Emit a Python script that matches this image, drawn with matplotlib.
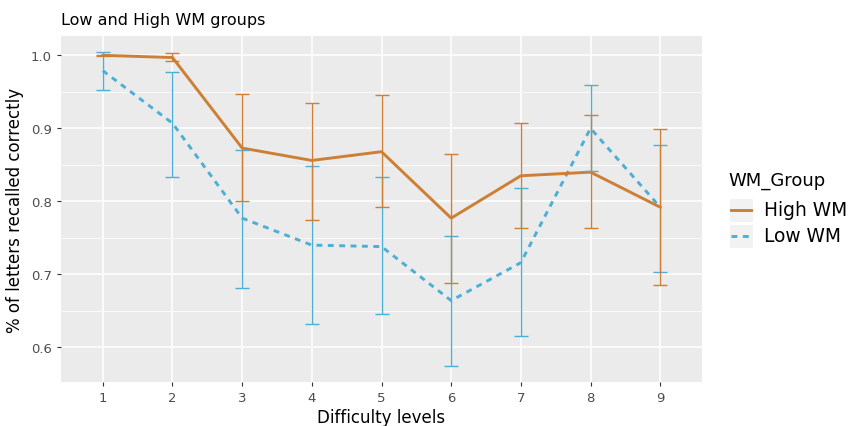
import numpy as np
import matplotlib.pyplot as plt
from matplotlib.lines import Line2D
from matplotlib.patches import Rectangle

levels = [1, 2, 3, 4, 5, 6, 7, 8, 9]

high_mean = [1.000, 0.997, 0.873, 0.856, 0.868, 0.777, 0.835, 0.840, 0.792]
high_upper = [1.001, 1.003, 0.947, 0.935, 0.945, 0.865, 0.907, 0.918, 0.899]
high_lower = [0.999, 0.992, 0.800, 0.775, 0.792, 0.688, 0.763, 0.764, 0.685]

low_mean = [0.979, 0.907, 0.777, 0.740, 0.738, 0.664, 0.716, 0.900, 0.792]
low_upper = [1.005, 0.977, 0.870, 0.848, 0.833, 0.752, 0.818, 0.960, 0.877]
low_lower = [0.952, 0.834, 0.681, 0.632, 0.645, 0.574, 0.616, 0.841, 0.703]

groups = ['High WM', 'Low WM']
orange = '#CD7F36'
blue = '#4BAFD6'
dash = (0, (2.0, 1.9))

W, H = 849, 427
fig = plt.figure(figsize=(W / 100, H / 100), dpi=100)
ax = fig.add_axes([61 / W, 1 - 383 / H, 641 / W, 346 / H])
ax.set_facecolor('#EBEBEB')

for mean, lo, hi, col, ls in [(low_mean, low_lower, low_upper, blue, dash),
                               (high_mean, high_lower, high_upper, orange, '-')]:
    ax.plot(levels, mean, color=col, lw=2.1, ls=ls, zorder=3)
    mean = np.array(mean)
    ax.errorbar(levels, mean, yerr=[mean - np.array(lo), np.array(hi) - mean],
                fmt='none', ecolor=col, elinewidth=1.0, capsize=5, capthick=1.0,
                zorder=4)

ax.set_xlim(0.4, 9.6)
ax.set_ylim(0.5525, 1.0265)
ax.set_xticks(levels)
ax.set_yticks([0.6, 0.7, 0.8, 0.9, 1.0])
ax.set_yticks([0.65, 0.75, 0.85, 0.95], minor=True)
ax.grid(which='major', color='white', lw=1.1)
ax.grid(which='minor', color='white', lw=0.55)
ax.set_axisbelow(True)
for s in ax.spines.values():
    s.set_visible(False)
ax.tick_params(which='major', length=3, color='#333333', labelcolor='#4D4D4D', labelsize=9.5)
ax.tick_params(which='minor', length=0)

ax.set_xlabel('Difficulty levels', fontsize=12, labelpad=3)
ax.set_ylabel('% of letters recalled correctly', fontsize=12, labelpad=5)
ax.set_title('Low and High WM groups', fontsize=11.5, loc='left', pad=9)

# legend drawn by hand, ggplot style
fig.text(728 / W, 1 - 181 / H, 'WM_Group', va='center', ha='left', fontsize=13)
for i, (name, col, ls) in enumerate([(groups[0], orange, '-'), (groups[1], blue, dash)]):
    yc = 211 + 26 * i
    fig.add_artist(Rectangle((729 / W, 1 - (yc + 12) / H), 24 / W, 24 / H,
                             transform=fig.transFigure, facecolor='#F2F2F2',
                             edgecolor='white', lw=0.8))
    fig.add_artist(Line2D([731 / W, 751 / W], [1 - yc / H, 1 - yc / H],
                          transform=fig.transFigure, color=col, lw=2.1, ls=ls))
    fig.text(764 / W, 1 - yc / H, name, va='center', ha='left', fontsize=13.4)

fig.savefig('out.png', dpi=100)
